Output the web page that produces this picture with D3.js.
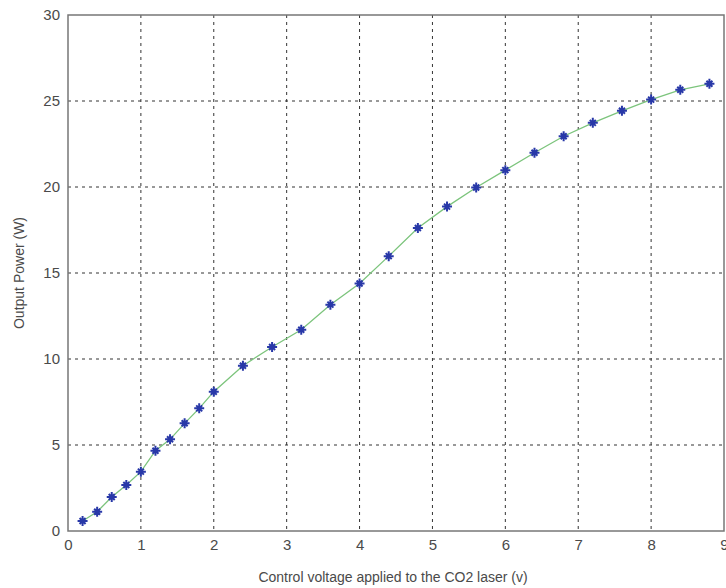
<!DOCTYPE html>
<html>
<head>
<meta charset="utf-8">
<script src="https://cdn.jsdelivr.net/npm/d3@7"></script>
<style>
  body { margin: 0; background: #fff; }
  svg { display: block; }
  text { font-family: "Liberation Sans", Arial, sans-serif; fill: #4a4a4a; }
</style>
</head>
<body>
<div id="chart"></div>
<script>
// voltage (v) and measured output power (W)
const voltage = [0.2, 0.4, 0.6, 0.8, 1.0, 1.2, 1.4, 1.6, 1.8, 2.0, 2.4, 2.8, 3.2, 3.6, 4.0,
  4.4, 4.8, 5.2, 5.6, 6.0, 6.4, 6.8, 7.2, 7.6, 8.0, 8.4, 8.8];
const power = [0.58, 1.12, 1.98, 2.67, 3.45, 4.67, 5.33, 6.26, 7.13, 8.1, 9.61, 10.7, 11.7, 13.16, 14.39,
  15.98, 17.62, 18.86, 19.97, 20.98, 21.99, 22.95, 23.73, 24.43, 25.08, 25.65, 26.0];
const xTicks = [0, 1, 2, 3, 4, 5, 6, 7, 8, 9];
const yTicks = [0, 5, 10, 15, 20, 25, 30];

const W = 726, H = 588;
const margin = { top: 15, left: 68, right: 2, bottom: 57 };
const width = W - margin.left - margin.right,
  height = H - margin.top - margin.bottom;

const svg = d3.select('#chart').append('svg')
  .attr('width', W).attr('height', H);

const g = svg.append('g')
  .attr('transform', `translate(${margin.left},${margin.top})`);

const x = d3.scaleLinear().domain([0, 9]).range([0, width]);
const y = d3.scaleLinear().domain([0, 30]).range([height, 0]);

// grid
g.append('g').selectAll('line')
  .data(xTicks.slice(1, -1))
  .join('line')
  .attr('x1', d => x(d)).attr('x2', d => x(d))
  .attr('y1', 0).attr('y2', height)
  .attr('stroke', '#333').attr('stroke-width', 1)
  .attr('stroke-dasharray', '3,4');
g.append('g').selectAll('line')
  .data(yTicks.slice(1, -1))
  .join('line')
  .attr('x1', 0).attr('x2', width)
  .attr('y1', d => y(d)).attr('y2', d => y(d))
  .attr('stroke', '#333').attr('stroke-width', 1)
  .attr('stroke-dasharray', '3,4');

// axes
const xAxis = g.append('g')
  .attr('transform', `translate(0,${height})`)
  .call(d3.axisBottom(x).tickValues(xTicks).tickFormat(d3.format('d')).tickSize(0).tickPadding(8));
const yAxis = g.append('g')
  .call(d3.axisLeft(y).tickValues(yTicks).tickFormat(d3.format('d')).tickSize(0).tickPadding(8));
[xAxis, yAxis].forEach(a => {
  a.select('.domain').remove();
  a.selectAll('text').style('font-size', '15px').attr('fill', '#4a4a4a');
});

// box
g.append('rect')
  .attr('width', width).attr('height', height)
  .attr('fill', 'none').attr('stroke', '#777').attr('stroke-width', 1.5);

// curve
const pts = voltage.map((v, i) => [v, power[i]]);
g.append('path')
  .datum(pts)
  .attr('fill', 'none')
  .attr('stroke', '#7cc47c')
  .attr('stroke-width', 1.3)
  .attr('d', d3.line().x(d => x(d[0])).y(d => y(d[1])));

// star markers
const star = 'M-5,0L5,0M0,-5L0,5M-3,-3L3,3M-3,3L3,-3';
g.append('g').selectAll('path')
  .data(pts)
  .join('path')
  .attr('transform', d => `translate(${x(d[0])},${y(d[1])})`)
  .attr('d', star)
  .attr('stroke', '#2838a8')
  .attr('stroke-width', 2)
  .attr('fill', 'none');

// labels
svg.append('text')
  .attr('x', margin.left + width / 2 - 3).attr('y', 582)
  .attr('text-anchor', 'middle')
  .style('font-size', '14px')
  .text('Control voltage applied to the CO2 laser (v)');
svg.append('text')
  .attr('transform', `translate(24,${margin.top + height / 2}) rotate(-90)`)
  .attr('text-anchor', 'middle')
  .style('font-size', '14px')
  .text('Output Power (W)');
</script>
</body>
</html>
